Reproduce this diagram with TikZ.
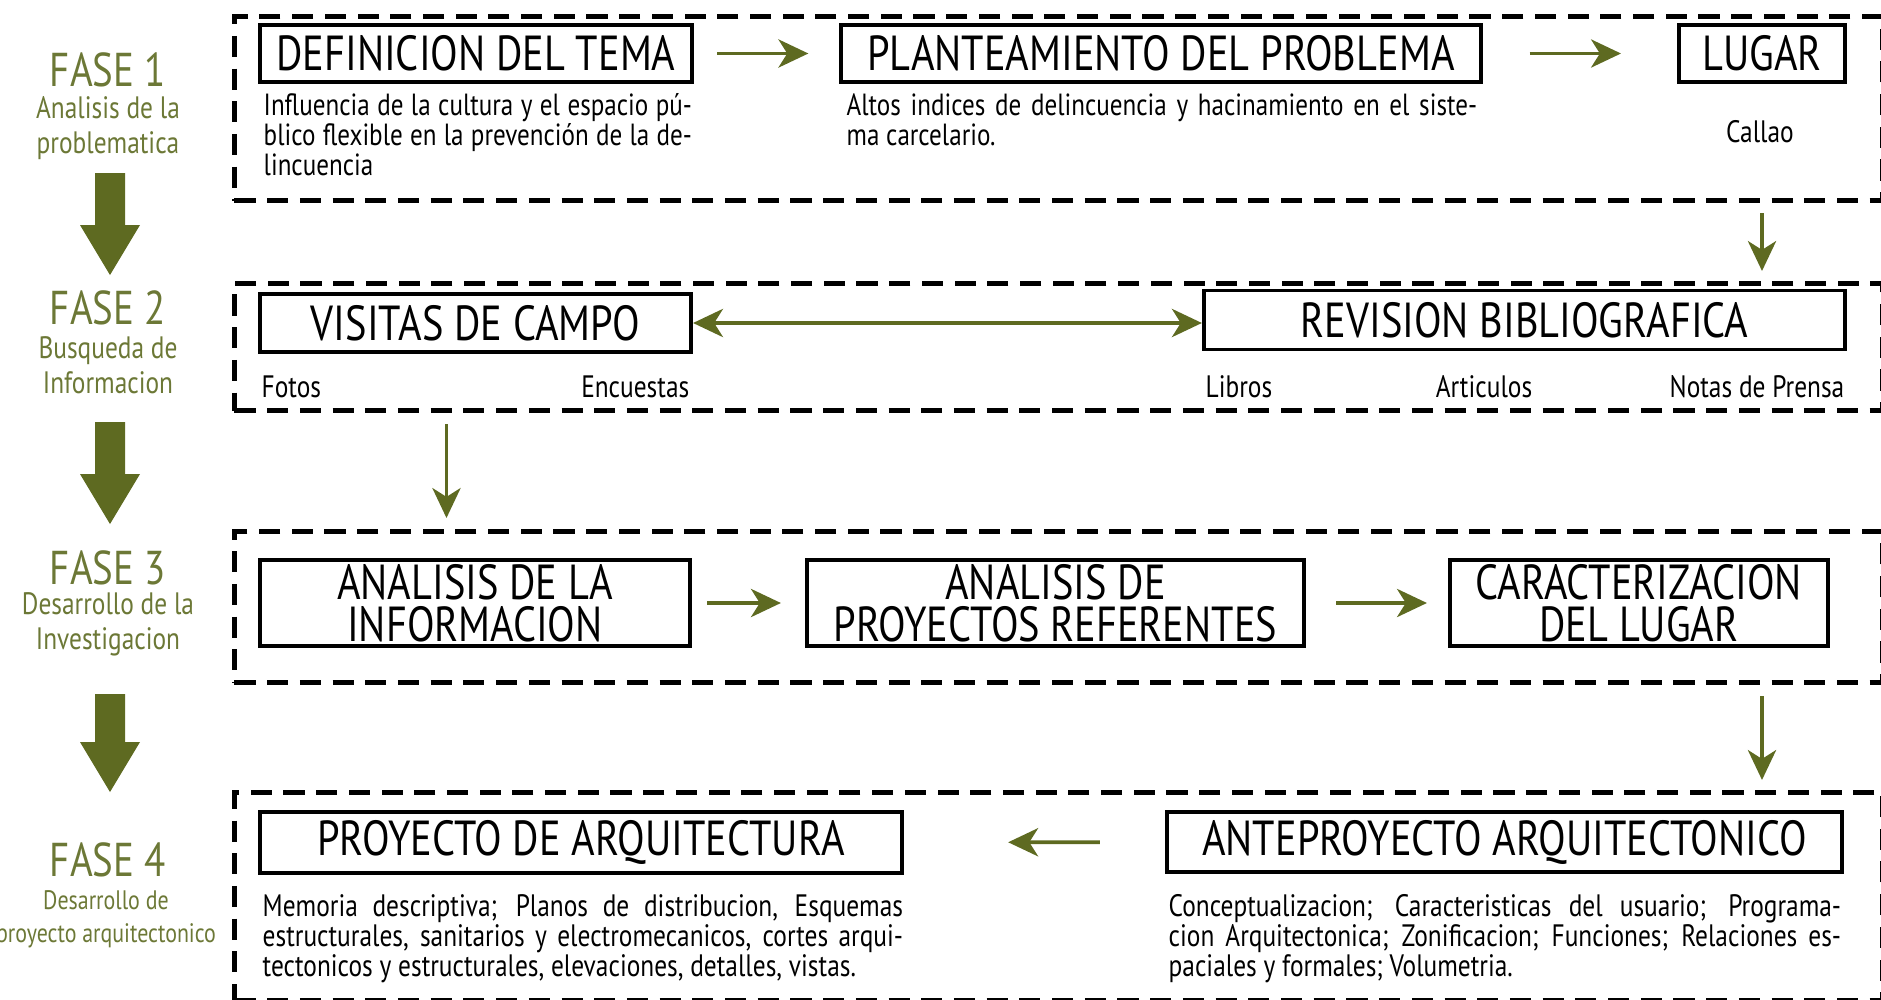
\documentclass[tikz,border=0pt]{standalone}
\usepackage{fontspec}
\setmainfont{PT Sans}[FakeStretch=0.82]
\usetikzlibrary{arrows.meta}

\definecolor{verde}{RGB}{94,106,33}
\definecolor{verdetexto}{RGB}{108,120,54}

\tikzset{
  >={Stealth[length=8.5pt,width=8pt,inset=2.5pt]},
  marco/.style={draw, line width=1.4pt, dash pattern=on 6pt off 3.3pt,
    minimum width=16.47cm, inner sep=0pt, anchor=north west},
  titulo/.style={draw, line width=1.1pt, inner sep=0pt, align=center,
    font=\fontsize{14}{12}\selectfont},
  cuerpo/.style={inner sep=0pt, align=justify, anchor=north west,
    font=\fontsize{8.7}{8.5}\selectfont},
  etiqueta/.style={inner sep=0pt, font=\fontsize{8.8}{8.5}\selectfont},
  fase/.style={text=verdetexto, inner sep=0pt, anchor=base,
    font=\fontsize{13.5}{13.5}\selectfont},
  subfase/.style={text=verdetexto, inner sep=0pt, align=center, anchor=north,
    font=\fontsize{8.8}{10}\selectfont},
  flecha/.style={->, verde, line width=1.1pt},
}

\begin{document}
\begin{tikzpicture}[x=0.01cm,y=-0.01cm]
\useasboundingbox (0,0) rectangle (1881,1000);

% fases a la izquierda
\node[fase] (fase1) at (108,87) {FASE 1};
\node[subfase] (sub1) at (108,96) {Analisis de la\\problematica};
\node[fase] (fase2) at (108,324) {FASE 2};
\node[subfase] (sub2) at (108,336) {Busqueda de\\Informacion};
\node[fase] (fase3) at (108,584) {FASE 3};
\node[subfase] (sub3) at (108,592) {Desarrollo de la\\Investigacion};
\node[fase] (fase4) at (108,876) {FASE 4};
\node[subfase, font=\fontsize{7.6}{9.4}\selectfont] (sub4) at (106,890) {Desarrollo de\\proyecto arquitectonico};

\def\flechagrande#1#2{%
  \fill[verde] (95,#1) -- (125,#1) -- (125,#2-50) -- (140,#2-50) -- (110,#2)
    -- (80,#2-50) -- (95,#2-50) -- cycle;}
\flechagrande{173}{275}
\flechagrande{422}{524}
\flechagrande{694}{792}

% marcos
\node[marco, minimum height=1.84cm] (marco1) at (232,14) {};
\node[marco, minimum height=1.27cm] (marco2) at (232,281) {};
\node[marco, minimum height=1.51cm] (marco3) at (232,529) {};
\node[marco, minimum height=2.08cm] (marco4) at (232,790) {};

% fase 1
\node[titulo, minimum width=4.32cm, minimum height=0.57cm] (tema) at (476,53.5) {DEFINICION DEL TEMA};
\node[titulo, minimum width=6.39cm, minimum height=0.57cm] (problema) at (1161,53.5) {PLANTEAMIENTO DEL PROBLEMA};
\node[titulo, minimum width=1.66cm, minimum height=0.57cm] (lugar) at (1762,53.5) {LUGAR};
\node[cuerpo, text width=4.28cm] (txttema) at (263,93) {Influencia de la cultura y el espacio pú-\linebreak
  blico flexible en la prevención de la de-\linebreak lincuencia};
\node[cuerpo, text width=6.30cm] (txtproblema) at (846,93) {Altos indices de delincuencia y hacinamiento en el siste-\linebreak
  ma carcelario.};
\node[etiqueta, anchor=base] (callao) at (1760,143) {Callao};
\draw[flecha, shorten <=0.23cm, shorten >=0.31cm] (tema) -- (problema);
\draw[flecha, shorten <=0.47cm, shorten >=0.56cm] (problema) -- (lugar);

% fase 2
\node[titulo, minimum width=4.31cm, minimum height=0.58cm] (visitas) at (475.5,323) {VISITAS DE CAMPO};
\node[titulo, minimum width=6.41cm, minimum height=0.59cm] (revision) at (1524.5,320) {REVISION BIBLIOGRAFICA};
\node[etiqueta, anchor=base west] (fotos) at (261,397) {Fotos};
\node[etiqueta, anchor=base east] (encuestas) at (690,397) {Encuestas};
\node[etiqueta, anchor=base west] (libros) at (1205,397) {Libros};
\node[etiqueta, anchor=base] (articulos) at (1484,397) {Articulos};
\node[etiqueta, anchor=base east] (notas) at (1845,397) {Notas de Prensa};
\draw[flecha, <->] (visitas.east) -- (visitas.east -| revision.west);

% fase 3
\node[titulo, minimum width=4.30cm, minimum height=0.86cm] (info) at (475,603) {ANALISIS DE LA\\INFORMACION};
\node[titulo, minimum width=4.97cm, minimum height=0.86cm] (referentes) at (1055.5,603) {ANALISIS DE\\PROYECTOS REFERENTES};
\node[titulo, minimum width=3.78cm, minimum height=0.86cm] (caracter) at (1639,603) {CARACTERIZACION\\DEL LUGAR};
\draw[flecha, shorten <=0.15cm, shorten >=0.24cm] (info) -- (referentes);
\draw[flecha, shorten <=0.30cm, shorten >=0.21cm] (referentes) -- (caracter);

% fase 4
\node[titulo, minimum width=6.42cm, minimum height=0.61cm] (proyecto) at (581,842.5) {PROYECTO DE ARQUITECTURA};
\node[titulo, minimum width=6.75cm, minimum height=0.60cm] (ante) at (1504.5,842) {ANTEPROYECTO ARQUITECTONICO};
\node[cuerpo, text width=6.40cm, font=\fontsize{8.8}{8.5}\selectfont] (txtproyecto) at (262,894) {Memoria descriptiva; Planos de distribucion, Esquemas\linebreak
  estructurales, sanitarios y electromecanicos, cortes arqui-\linebreak
  tectonicos y estructurales, elevaciones, detalles, vistas.};
\node[cuerpo, text width=6.72cm, font=\fontsize{8.8}{8.5}\selectfont] (txtante) at (1168,894) {Conceptualizacion; Caracteristicas del usuario; Programa-\linebreak
  cion Arquitectonica; Zonificacion; Funciones; Relaciones es-\linebreak
  paciales y formales; Volumetria.};
\draw[flecha, shorten <=0.65cm, shorten >=1.04cm] (ante) -- (proyecto);

% flechas entre marcos
\draw[flecha, shorten <=0.10cm, shorten >=0.10cm] (lugar |- marco1.south) -- (lugar |- marco2.north);
\draw[flecha, shorten <=0.11cm, shorten >=0.11cm] ([xshift=-0.29cm]visitas.south |- marco2.south) -- ([xshift=-0.29cm]visitas.south |- marco3.north);
\draw[flecha, shorten <=0.11cm, shorten >=0.10cm] (lugar |- marco3.south) -- (lugar |- marco4.north);

\end{tikzpicture}
\end{document}
